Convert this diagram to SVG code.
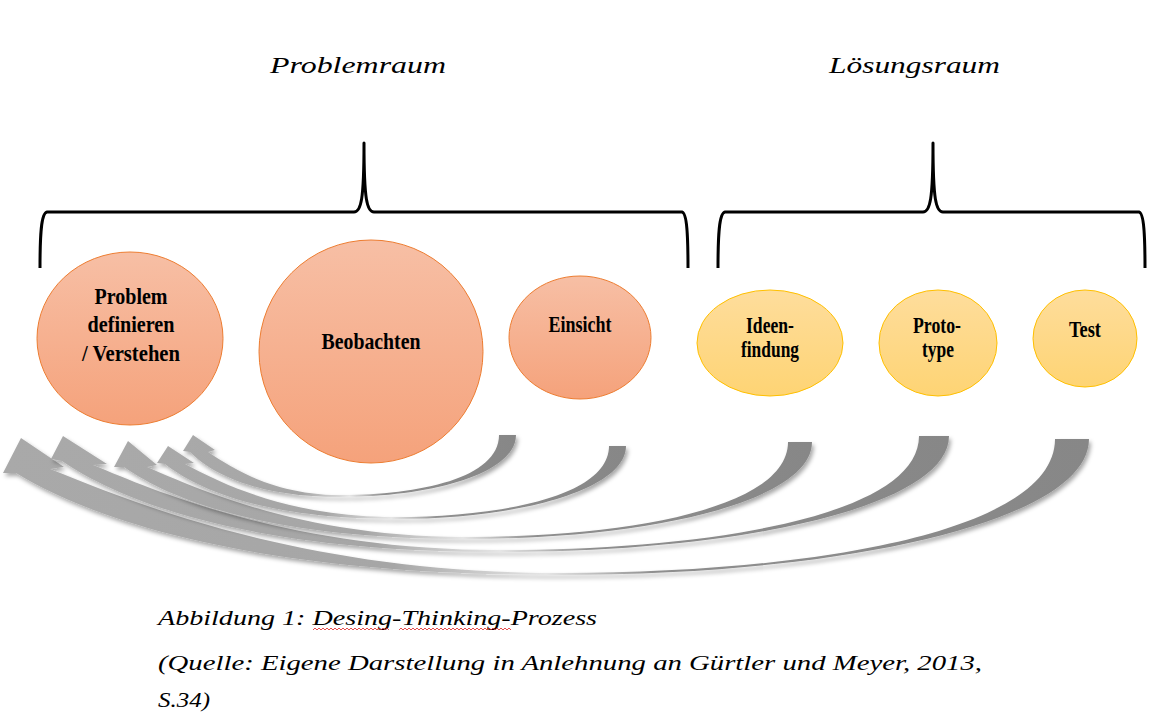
<svg xmlns="http://www.w3.org/2000/svg" width="1167" height="712" viewBox="0 0 1167 712">
<defs>
<style>
.brace{fill:none;stroke:#000;stroke-width:3;stroke-linejoin:round}
.title{font-family:"Liberation Serif",serif;font-style:italic;font-size:24px;fill:#000}
.cap{font-family:"Liberation Serif",serif;font-style:italic;font-size:22px;fill:#000}
.lbl{font-family:"Liberation Serif",serif;font-weight:bold;font-size:23px;fill:#000;text-anchor:middle}
.or{fill:url(#gOr);stroke:#ed7d31;stroke-width:1}
.ye{fill:url(#gYe);stroke:#ffc000;stroke-width:1}
.arr{fill:url(#gArr);filter:url(#sh)}
</style>
<linearGradient id="gOr" x1="0" y1="0" x2="0" y2="1"><stop offset="0" stop-color="#f7bfa5"/><stop offset="1" stop-color="#f5a27b"/></linearGradient>
<linearGradient id="gYe" x1="0" y1="0" x2="0" y2="1"><stop offset="0" stop-color="#fedd9c"/><stop offset="1" stop-color="#fed474"/></linearGradient>
<linearGradient id="gArr" x1="0" y1="0" x2="1" y2="0"><stop offset="0" stop-color="#a9a9a9"/><stop offset="0.36" stop-color="#a6a6a6"/><stop offset="0.5" stop-color="#e6e6e6"/><stop offset="0.6" stop-color="#8e8e8e"/><stop offset="1" stop-color="#878787"/></linearGradient>
<filter id="sh" x="-5%" y="-20%" width="110%" height="150%"><feDropShadow dx="2" dy="3" stdDeviation="2" flood-color="#000" flood-opacity="0.35"/></filter>
</defs>
<rect width="1167" height="712" fill="#fff"/>

<g id="titles">
<text class="title" x="270" y="73" textLength="176" lengthAdjust="spacingAndGlyphs">Problemraum</text>
<text class="title" x="829" y="73" textLength="171" lengthAdjust="spacingAndGlyphs">Lösungsraum</text>
</g>

<g id="braces">
<path class="brace" d="M40,268 C40,236 41,213 47,212 L354,212 C361,212 364,200 364,143 C364,200 367,212 374,212 L682,212 C687,213 688,236 688,268"/>
<path class="brace" d="M718,268 C718,236 719,213 725,212 L923,212 C930,212 933,200 933,143 C933,200 936,212 943,212 L1139,212 C1144,213 1145,236 1145,268"/>
</g>

<g id="connectors">
<path class="arr" d="M1089,439 C1089,520 851,575 560,575 C261,575 98,523 16,473 L3,473 L21,438 L64,467 L50,469 C140,505 305,573 560,573 C807,573 1055,533 1055,439 Z"/>
<path class="arr" d="M949,436 C949,505 747,552 500,552 C259,552 128,506 62,461 L51,459 L63,436 L107,464 L93,465 C165,495 296,550 500,550 C709,550 919,516 919,436 Z"/>
<path class="arr" d="M812,442 C812,500 656,539 465,539 C277,539 175,503 124,467 L114,467 L128,441 L157,465 L147,467 C205,492 306,537 465,537 C626,537 788,509 788,442 Z"/>
<path class="arr" d="M626,446 C626,489 522,519 395,519 C268,519 199,491 165,464 L157,463 L168,446 L194,463 L185,464 C222,484 290,517 395,517 C502,517 609,496 609,446 Z"/>
<path class="arr" d="M516,435 C516,472 437,497 340,497 C257,497 212,474 190,452 L183,451 L193,435 L215,450 L208,452 C232,468 274,495 340,495 C420,495 499,478 499,435 Z"/>
</g>

<g id="n-problem">
<ellipse class="or" cx="130" cy="338.5" rx="93" ry="86.5"/>
<text class="lbl" x="131" y="304" textLength="73" lengthAdjust="spacingAndGlyphs">Problem</text>
<text class="lbl" x="131" y="332" textLength="87" lengthAdjust="spacingAndGlyphs">definieren</text>
<text class="lbl" x="131" y="361" textLength="98" lengthAdjust="spacingAndGlyphs">/ Verstehen</text>
</g>
<g id="n-beobachten">
<ellipse class="or" cx="371" cy="351.5" rx="112" ry="111.5"/>
<text class="lbl" x="371" y="349" textLength="99" lengthAdjust="spacingAndGlyphs">Beobachten</text>
</g>
<g id="n-einsicht">
<ellipse class="or" cx="580" cy="337.5" rx="71" ry="61.5"/>
<text class="lbl" x="580" y="332" textLength="63" lengthAdjust="spacingAndGlyphs">Einsicht</text>
</g>
<g id="n-ideen">
<ellipse class="ye" cx="770" cy="343" rx="73" ry="53"/>
<text class="lbl" x="770" y="333" textLength="48" lengthAdjust="spacingAndGlyphs">Ideen-</text>
<text class="lbl" x="770" y="357" textLength="58" lengthAdjust="spacingAndGlyphs">findung</text>
</g>
<g id="n-proto">
<ellipse class="ye" cx="938" cy="343" rx="59" ry="53"/>
<text class="lbl" x="937" y="333" textLength="48" lengthAdjust="spacingAndGlyphs">Proto-</text>
<text class="lbl" x="938" y="357" textLength="32" lengthAdjust="spacingAndGlyphs">type</text>
</g>
<g id="n-test">
<ellipse class="ye" cx="1085" cy="338.5" rx="52" ry="48.5"/>
<text class="lbl" x="1085" y="337" textLength="32" lengthAdjust="spacingAndGlyphs">Test</text>
</g>

<g id="caption">
<text class="cap" x="158" y="625" textLength="439" lengthAdjust="spacingAndGlyphs">Abbildung 1: Desing-Thinking-Prozess</text>
<path d="M313,630 l2,-2 l2,2 l2,-2 l2,2 l2,-2 l2,2 l2,-2 l2,2 l2,-2 l2,2 l2,-2 l2,2 l2,-2 l2,2 l2,-2 l2,2 l2,-2 l2,2 l2,-2 l2,2 l2,-2 l2,2 l2,-2 l2,2 l2,-2 l2,2 l2,-2 l2,2 l2,-2 l2,2 l2,-2 l2,2 l2,-2 l2,2 l2,-2 l2,2 l2,-2 l2,2 M399,630 l2,-2 l2,2 l2,-2 l2,2 l2,-2 l2,2 l2,-2 l2,2 l2,-2 l2,2 l2,-2 l2,2 l2,-2 l2,2 l2,-2 l2,2 l2,-2 l2,2 l2,-2 l2,2 l2,-2 l2,2 l2,-2 l2,2 l2,-2 l2,2 l2,-2 l2,2 l2,-2 l2,2 l2,-2 l2,2 l2,-2 l2,2 l2,-2 l2,2 l2,-2 l2,2 l2,-2 l2,2 l2,-2 l2,2 l2,-2 l2,2 l2,-2 l2,2 l2,-2 l2,2 l2,-2 l2,2 l2,-2 l2,2 l2,-2 l2,2 l2,-2 l2,2" fill="none" stroke="#e02020" stroke-width="0.8"/>
<text class="cap" x="158" y="670" textLength="824" lengthAdjust="spacingAndGlyphs">(Quelle: Eigene Darstellung in Anlehnung an Gürtler und Meyer, 2013,</text>
<text class="cap" x="158" y="707" textLength="52" lengthAdjust="spacingAndGlyphs">S.34)</text>
</g>
</svg>
